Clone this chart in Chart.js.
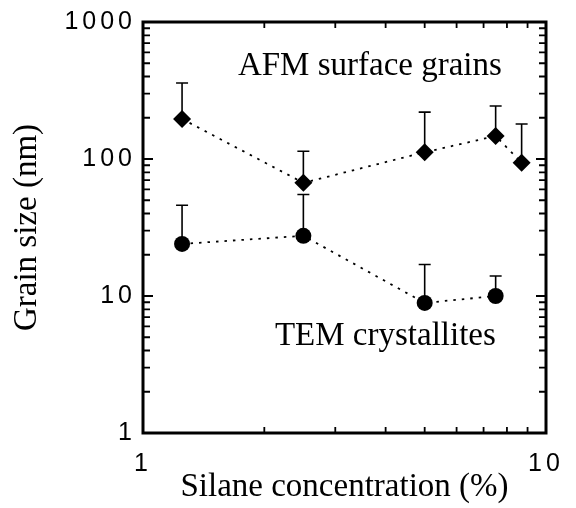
<!DOCTYPE html>
<html>
<head>
<meta charset="utf-8">
<script src="https://cdn.jsdelivr.net/npm/chart.js@4/dist/chart.umd.min.js"></script>
<style>
html,body{margin:0;padding:0;background:#fff;}
#wrap{width:576px;height:508px;position:relative;}
</style>
</head>
<body>
<div id="wrap"><canvas id="c" width="576" height="508"></canvas></div>
<script>
// ---- data ----
const afmX = [1.25, 2.5, 5, 7.5, 8.7];
const afmY = [196, 67, 112, 147, 94];
const afmErrTop = [359, 114, 220, 244, 180];
const temX = [1.25, 2.5, 5, 7.5];
const temY = [24, 27.5, 8.9, 10];
const temErrTop = [46, 55, 17, 14];
const xTickValues = [1, 2, 3, 4, 5, 6, 7, 8, 9, 10];
const yTickValues = [1, 2, 3, 4, 5, 6, 7, 8, 9, 10, 20, 30, 40, 50, 60, 70, 80, 90, 100, 200, 300, 400, 500, 600, 700, 800, 900, 1000];
const xTickLabels = ['1', '10'];
const yTickLabels = ['1', '10', '100', '1000'];
const xTitle = 'Silane concentration (%)';
const yTitle = 'Grain size (nm)';
const afmLabel = {text: 'AFM surface grains', x: 1.72, y: 410};
const temLabel = {text: 'TEM crystallites', x: 2.125, y: 4.39};

const afmData = afmX.map((x, i) => ({x: x, y: afmY[i]}));
const temData = temX.map((x, i) => ({x: x, y: temY[i]}));

function isDecade(v) { const l = Math.log10(v); return Math.abs(l - Math.round(l)) < 1e-9; }

const frame = {
  id: 'frame',
  beforeDraw(chart) {
    Object.values(chart.scales).forEach(s => {
      if (!s._wrapped) {
        const orig = s.drawLabels.bind(s);
        s.drawLabels = function (area) {
          const ctx = this.ctx;
          ctx.save();
          ctx.letterSpacing = '4px';
          orig(area);
          ctx.restore();
        };
        s._wrapped = true;
      }
    });
  },
  beforeDatasetsDraw(chart) {
    const ctx = chart.ctx, xs = chart.scales.x, ys = chart.scales.y;
    ctx.save();
    ctx.strokeStyle = '#000';
    ctx.lineWidth = 1.6;
    const drawErr = (xa, ya, ea) => {
      xa.forEach((xv, i) => {
        const px = xs.getPixelForValue(xv);
        const py = ys.getPixelForValue(ya[i]);
        const pt = ys.getPixelForValue(ea[i]);
        ctx.beginPath();
        ctx.moveTo(px, py); ctx.lineTo(px, pt);
        ctx.moveTo(px - 6, pt); ctx.lineTo(px + 6, pt);
        ctx.stroke();
      });
    };
    drawErr(afmX, afmY, afmErrTop);
    drawErr(temX, temY, temErrTop);
    ctx.restore();
  },
  afterDraw(chart) {
    const ctx = chart.ctx, a = chart.chartArea, xs = chart.scales.x, ys = chart.scales.y;
    ctx.save();
    ctx.strokeStyle = '#000';
    ctx.lineWidth = 1.8;
    ctx.beginPath();
    xTickValues.forEach(v => {
      const px = xs.getPixelForValue(v);
      const len = isDecade(v) ? 9 : 6;
      ctx.moveTo(px, a.bottom); ctx.lineTo(px, a.bottom - len);
      ctx.moveTo(px, a.top); ctx.lineTo(px, a.top + len);
    });
    yTickValues.forEach(v => {
      const py = ys.getPixelForValue(v);
      const len = isDecade(v) ? 10 : 7;
      ctx.moveTo(a.left, py); ctx.lineTo(a.left + len, py);
      ctx.moveTo(a.right, py); ctx.lineTo(a.right - len, py);
    });
    ctx.stroke();
    ctx.lineWidth = 3;
    ctx.strokeRect(a.left, a.top, a.right - a.left, a.bottom - a.top);
    ctx.fillStyle = '#000';
    ctx.font = '33px "Liberation Serif", "Times New Roman", serif';
    ctx.textAlign = 'left';
    ctx.textBaseline = 'alphabetic';
    [afmLabel, temLabel].forEach(l => {
      ctx.fillText(l.text, xs.getPixelForValue(l.x), ys.getPixelForValue(l.y));
    });
    ctx.restore();
  }
};

new Chart(document.getElementById('c'), {
  type: 'scatter',
  data: {
    datasets: [
      {
        label: 'AFM surface grains',
        data: afmData,
        showLine: true,
        borderColor: '#000',
        backgroundColor: '#000',
        borderWidth: 1.8,
        borderDash: [2.5, 6],
        pointStyle: 'rectRot',
        pointRadius: 9,
        pointBorderWidth: 0
      },
      {
        label: 'TEM crystallites',
        data: temData,
        showLine: true,
        borderColor: '#000',
        backgroundColor: '#000',
        borderWidth: 1.8,
        borderDash: [2.5, 6],
        pointStyle: 'circle',
        pointRadius: 8,
        pointBorderWidth: 0
      }
    ]
  },
  options: {
    responsive: false,
    animation: false,
    devicePixelRatio: 1,
    layout: {padding: {left: 0, top: 22, right: 30, bottom: 0}},
    plugins: {legend: {display: false}, tooltip: {enabled: false}},
    scales: {
      x: {
        type: 'logarithmic',
        min: 1, max: 10,
        afterBuildTicks(s) { s.ticks = xTickValues.map(v => ({value: v, major: isDecade(v)})); },
        afterFit(s) { s.height = 75; },
        grid: {display: false, drawTicks: false},
        border: {display: false},
        ticks: {
          autoSkip: false, maxRotation: 0, padding: 16, color: '#000',
          font: {family: '"Liberation Sans", Arial, sans-serif', size: 25},
          callback(v) { return xTickLabels.includes(String(v)) && isDecade(v) ? String(v) : ''; }
        },
        title: {
          display: true, text: xTitle, color: '#000', padding: {top: 0, bottom: 1},
          font: {family: '"Liberation Serif", "Times New Roman", serif', size: 33}
        }
      },
      y: {
        type: 'logarithmic',
        min: 1, max: 1000,
        afterBuildTicks(s) { s.ticks = yTickValues.map(v => ({value: v, major: isDecade(v)})); },
        afterFit(s) { s.width = 143; },
        grid: {display: false, drawTicks: false},
        border: {display: false},
        ticks: {
          autoSkip: false, padding: 7, color: '#000',
          font: {family: '"Liberation Sans", Arial, sans-serif', size: 25},
          callback(v) { return yTickLabels.includes(String(v)) && isDecade(v) ? String(v) : ''; }
        },
        title: {
          display: true, text: yTitle, color: '#000', padding: {top: 8, bottom: 0},
          font: {family: '"Liberation Serif", "Times New Roman", serif', size: 33}
        }
      }
    }
  },
  plugins: [frame]
});
</script>
</body>
</html>
